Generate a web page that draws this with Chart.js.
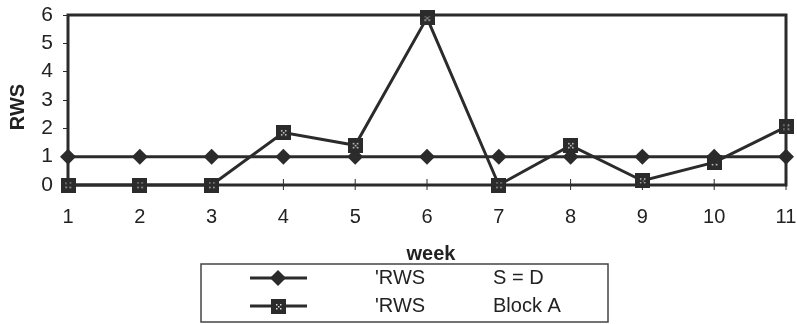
<!DOCTYPE html>
<html lang="en">
<head>
    <meta charset="UTF-8">
    <title>RWS per week</title>
    <style>
        html, body { margin: 0; padding: 0; background: #fff; }
        #wrap { width: 797px; height: 324px; position: relative; }
    </style>
</head>
<body>
    <div id="wrap"><canvas id="myChart" width="797" height="324"></canvas></div>
    <script src="https://cdn.jsdelivr.net/npm/chart.js"></script>
    <script>
    // data
    const weeks = [1, 2, 3, 4, 5, 6, 7, 8, 9, 10, 11];
    const rwsSD = [1, 1, 1, 1, 1, 1, 1, 1, 1, 1, 1];
    const rwsBlockA = [0, 0, 0, 1.85, 1.4, 5.9, 0, 1.4, 0.15, 0.8, 2.05];
    const yTicks = [0, 1, 2, 3, 4, 5, 6];
    const legendNames = [["'RWS", "S = D"], ["'RWS", "Block A"]];

    const ink = '#2b2b2b';
    const font = '"Liberation Sans", Arial, sans-serif';

    // dotted square marker like the scan
    function squareMarker() {
        const c = document.createElement('canvas');
        c.width = 15; c.height = 15;
        const g = c.getContext('2d');
        g.fillStyle = ink;
        g.fillRect(0, 0, 15, 15);
        g.fillStyle = '#d8d8d8';
        [[5, 5], [9, 5], [7, 7], [5, 9], [9, 9]].forEach(p => g.fillRect(p[0], p[1], 1.5, 1.5));
        return c;
    }
    const sq = squareMarker();

    const frame = {
        id: 'frame',
        afterDatasetsDraw(chart) {
            const { ctx, chartArea: a, scales } = chart;
            ctx.save();
            ctx.strokeStyle = ink;
            ctx.lineWidth = 3;
            ctx.strokeRect(a.left, a.top, a.right - a.left, a.bottom - a.top);
            // small tick marks on the week axis
            ctx.lineWidth = 1;
            weeks.forEach(w => {
                const x = scales.x.getPixelForValue(w);
                ctx.beginPath();
                ctx.moveTo(x, a.bottom - 6);
                ctx.lineTo(x, a.bottom + 5);
                ctx.stroke();
            });
            ctx.restore();
        },
        afterDraw(chart) {
            const { ctx } = chart;
            ctx.save();
            ctx.fillStyle = '#222';
            ctx.font = 'bold 20px ' + font;
            ctx.textAlign = 'center';
            ctx.textBaseline = 'middle';
            ctx.fillText('week', 431, 254);
            ctx.translate(18, 107);
            ctx.rotate(-Math.PI / 2);
            ctx.fillText('RWS', 0, 0);
            ctx.restore();

            // legend box
            ctx.save();
            ctx.strokeStyle = '#444';
            ctx.lineWidth = 1.5;
            ctx.fillStyle = '#fff';
            ctx.fillRect(201, 264, 407, 58);
            ctx.strokeRect(201, 264, 407, 58);
            const rows = [278, 306];
            chart.data.datasets.forEach((ds, i) => {
                const y = rows[i];
                ctx.strokeStyle = ink;
                ctx.lineWidth = 3;
                ctx.beginPath();
                ctx.moveTo(250, y);
                ctx.lineTo(307, y);
                ctx.stroke();
                if (i === 0) {
                    ctx.fillStyle = ink;
                    ctx.beginPath();
                    ctx.moveTo(278, y - 8);
                    ctx.lineTo(286, y);
                    ctx.lineTo(278, y + 8);
                    ctx.lineTo(270, y);
                    ctx.closePath();
                    ctx.fill();
                } else {
                    ctx.drawImage(sq, 271, y - 7);
                }
                ctx.fillStyle = '#222';
                ctx.font = '20px ' + font;
                ctx.textAlign = 'left';
                ctx.textBaseline = 'middle';
                ctx.fillText(legendNames[i][0], 375, y);
                ctx.fillText(legendNames[i][1], 493, y);
            });
            ctx.restore();
        }
    };

    const ctx = document.getElementById('myChart');
    const myChart = new Chart(ctx, {
        type: 'line',
        data: {
            labels: weeks,
            datasets: [{
                label: "'RWS S = D",
                data: weeks.map((w, i) => ({ x: w, y: rwsSD[i] })),
                borderColor: ink,
                borderWidth: 3,
                pointStyle: 'rectRot',
                pointRadius: 8,
                pointBackgroundColor: ink,
                pointBorderColor: ink,
                pointBorderWidth: 0,
                tension: 0,
                clip: false
            }, {
                label: "'RWS Block A",
                data: weeks.map((w, i) => ({ x: w, y: rwsBlockA[i] })),
                borderColor: ink,
                borderWidth: 3,
                pointStyle: sq,
                pointRadius: 8,
                tension: 0,
                clip: false
            }]
        },
        options: {
            responsive: false,
            animation: false,
            layout: { padding: { top: 15, right: 8, left: 0, bottom: 0 } },
            plugins: { legend: { display: false }, tooltip: { enabled: false } },
            scales: {
                x: {
                    type: 'linear',
                    min: 1, max: 11,
                    afterBuildTicks: s => { s.ticks = weeks.map(v => ({ value: v })); },
                    afterFit: s => { s.height = 139; s.paddingLeft = 0; s.paddingRight = 0; },
                    grid: { display: false },
                    border: { display: false },
                    ticks: { color: '#222', font: { family: font, size: 20 }, padding: 12, maxRotation: 0, autoSkip: false }
                },
                y: {
                    min: 0, max: 6,
                    afterBuildTicks: s => { s.ticks = yTicks.map(v => ({ value: v })); },
                    afterFit: s => { s.width = 68; s.paddingTop = 0; s.paddingBottom = 0; },
                    grid: { drawOnChartArea: false, color: ink, tickLength: 5, lineWidth: 1 },
                    border: { display: false },
                    ticks: { color: '#222', font: { family: font, size: 21 }, padding: 10, autoSkip: false }
                }
            }
        },
        plugins: [frame]
    });
    </script>
</body>
</html>
